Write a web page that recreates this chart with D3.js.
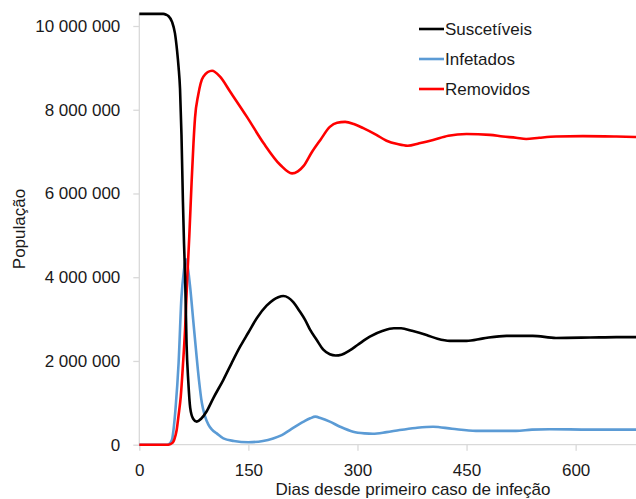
<!DOCTYPE html>
<html><head><meta charset="utf-8">
<script src="https://cdn.jsdelivr.net/npm/d3@7"></script>
<style>html,body{margin:0;padding:0;background:#fff;} svg{display:block;}</style>
</head><body>
<script>
// ---- data (days since first case, population in millions) ----
const seriesNames = ["Suscetíveis", "Infetados", "Removidos"];
const seriesColors = ["#000000", "#5B9BD5", "#FF0000"];

const susDays = [0,33,37,40,45,49,52,54,56,58,60,61.5,63,65,67.4,70,74,79,85,92.7,102,115.6,127,138.6,150,161.5,175,184.4,191,198,205,212,220,228,235,244,253,262,270,278,290,300,317,335,350,360,375,395,410,427,450,473,505,541,573,620,656,683];
const susVals = [10.29,10.29,10.27,10.24,10.10,9.83,9.40,9.02,8.5,7.4,5.8,4.8,4.0,2.4,1.5,0.88,0.62,0.55,0.62,0.80,1.12,1.55,1.95,2.34,2.68,3.02,3.32,3.46,3.52,3.55,3.51,3.40,3.20,2.98,2.74,2.50,2.27,2.16,2.13,2.15,2.26,2.38,2.58,2.72,2.78,2.78,2.72,2.62,2.53,2.48,2.48,2.54,2.60,2.60,2.55,2.56,2.57,2.57];

const infDays = [0,38,42,45,47,50,54,58,61,64.3,67,70,74,78,82,86,90,95,100,106.5,115.6,130,150,170,184,196,207,226,235,242,250,262,276,294,310,321,340,358,380,404,430,463,518,540,564,620,683];
const infVals = [0,0,0.03,0.12,0.35,0.9,1.94,3.53,4.1,4.43,4.2,3.75,3.0,2.25,1.55,1.0,0.7,0.48,0.36,0.27,0.15,0.09,0.06,0.09,0.15,0.23,0.35,0.55,0.63,0.67,0.63,0.55,0.43,0.31,0.27,0.26,0.30,0.35,0.40,0.43,0.38,0.33,0.33,0.36,0.37,0.36,0.36];

const remDays = [0,40,46,48,51.4,54,57,60,62.9,66,68.8,72,74.5,76.6,81,88,100,111,125,148,171,194,210,218,226,237,249,262,272,283,295,308,326,340,355,369,385,404,425,450,482,500,518,532,550,573,610,656,683];
const remVals = [0,0,0.05,0.12,0.35,0.7,1.15,1.9,2.74,4.0,5.0,6.3,7.2,7.8,8.35,8.79,8.93,8.79,8.43,7.83,7.20,6.68,6.48,6.53,6.66,6.98,7.28,7.59,7.69,7.71,7.66,7.56,7.40,7.26,7.18,7.14,7.20,7.28,7.38,7.42,7.40,7.36,7.33,7.30,7.33,7.36,7.37,7.36,7.35];

const xTicks = [0,150,300,450,600];
const yTicks = [0,2000000,4000000,6000000,8000000,10000000];

// ---- layout ----
const W = 636, H = 499;
const svg = d3.select("body").append("svg").attr("width", W).attr("height", H);
const FONT = "'Liberation Sans', Arial, sans-serif";

const x = d3.scaleLinear().domain([0, 683]).range([139.3, 636]);
const y = d3.scaleLinear().domain([0, 10000000]).range([444.7, 26]);

const fmt = d3.formatLocale({decimal: ",", thousands: " ", grouping: [3], currency: ["", ""]}).format(",d");

// y axis
const yAxis = svg.append("g").attr("transform", `translate(${x(0)},0)`)
  .call(d3.axisLeft(y).tickValues(yTicks).tickFormat(fmt).tickSize(6).tickPadding(13));
yAxis.select(".domain").attr("d", `M0,${y(0)}V${y(10290000)}`);
// x axis
const xAxis = svg.append("g").attr("transform", `translate(0,${y(0)})`)
  .call(d3.axisBottom(x).tickValues(xTicks).tickFormat(d3.format("d")).tickSize(6).tickPadding(13));
xAxis.select(".domain").attr("d", `M${x(0)},0H${W}`);
[yAxis, xAxis].forEach(g => {
  g.selectAll(".domain, .tick line").attr("stroke", "#D9D9D9").attr("stroke-width", 1.3);
  g.selectAll("text").attr("font-family", FONT).attr("font-size", 17).attr("fill", "#1a1a1a");
});

// axis titles
svg.append("text").attr("x", 413).attr("y", 495).attr("text-anchor", "middle")
  .attr("font-family", FONT).attr("font-size", 17).attr("fill", "#1a1a1a")
  .text("Dias desde primeiro caso de infeção");
svg.append("text").attr("transform", "translate(25,229) rotate(-90)").attr("text-anchor", "middle")
  .attr("font-family", FONT).attr("font-size", 17).attr("fill", "#1a1a1a")
  .text("População");

// lines
const series = [
  {days: susDays, vals: susVals},
  {days: infDays, vals: infVals},
  {days: remDays, vals: remVals}
];
const line = d3.line().x(d => x(d[0])).y(d => y(d[1] * 1e6)).curve(d3.curveMonotoneX);
[1, 2, 0].forEach(i => {
  const s = series[i];
  const pts = s.days.map((d, k) => [d, s.vals[k]]);
  svg.append("path").attr("d", line(pts)).attr("fill", "none")
    .attr("stroke", seriesColors[i]).attr("stroke-width", 2.6)
    .attr("stroke-linejoin", "round");
});

// legend
const leg = svg.append("g");
seriesNames.forEach((n, i) => {
  const yy = 29 + i * 30;
  leg.append("line").attr("x1", 419).attr("x2", 444).attr("y1", yy).attr("y2", yy)
    .attr("stroke", seriesColors[i]).attr("stroke-width", 2.6);
  leg.append("text").attr("x", 445).attr("y", yy).attr("dy", "0.35em")
    .attr("font-family", FONT).attr("font-size", 17).attr("fill", "#1a1a1a").text(n);
});
</script>
</body></html>
